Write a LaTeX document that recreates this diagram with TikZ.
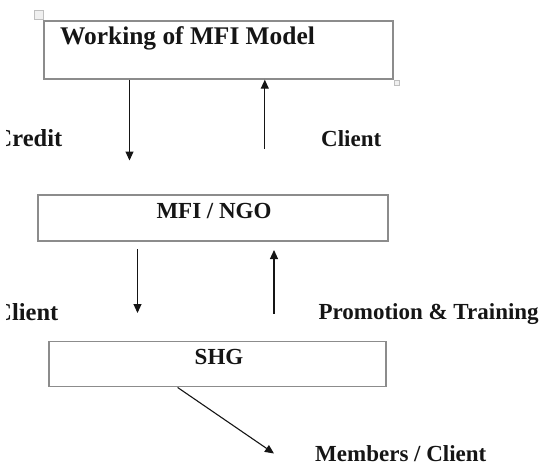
\documentclass[tikz,border=0pt]{standalone}
\usepackage{fontspec}
\setmainfont{Liberation Serif}
\usetikzlibrary{arrows.meta}
\definecolor{boxgray}{HTML}{8C8C8C}
\definecolor{ink}{HTML}{151515}
\tikzset{
  box/.style={draw=boxgray, line width=1.4pt, inner sep=0pt},
  lbl/.style={text=ink, inner sep=0pt, font=\bfseries\fontsize{23}{27}\selectfont},
  biglbl/.style={text=ink, inner sep=0pt, font=\bfseries\fontsize{24.5}{29}\selectfont},
  ttl/.style={text=ink, inner sep=0pt, font=\bfseries\fontsize{25.4}{30}\selectfont},
  arr/.style={draw=ink, line width=1.1pt, -{Triangle[length=9pt,width=8pt]}},
  handle/.style={draw=black!25, fill=black!6, line width=0.6pt}
}
\begin{document}
\begin{tikzpicture}[x=1pt,y=-1pt]
\useasboundingbox (0,0) rectangle (540,468);
\clip (0,0) rectangle (540,468);
% boxes
\node[box, minimum width=349pt, minimum height=58pt] (b1) at (218.5,50) {};
\node[box, minimum width=350pt, minimum height=46pt] (b2) at (213,218) {};
\node[box, minimum width=337pt, minimum height=45.5pt] (b3) at (217.5,364) {};
% selection handles
\draw[handle] (34,10) rectangle (43,19);
\draw[handle] (394,80) rectangle (399,85);
% texts
\node[ttl, anchor=base west] (t1) at (60,44.3) {Working of MFI Model};
\node[lbl, anchor=base] (t2) at (214,218.3) {MFI / NGO};
\node[lbl, anchor=base] (t3) at (219,364) {SHG};
\begin{scope}
\clip (6.5,0) rectangle (540,468);
\node[biglbl, anchor=base east] (credit) at (62.5,146.7) {Credit};
\node[biglbl, anchor=base east] (client2) at (58.5,320) {Client};
\end{scope}
\node[lbl, anchor=base west] (client1) at (321,146.7) {Client};
\node[lbl, anchor=base west] (promo) at (318.3,319.5) {Promotion \& Training};
\node[lbl, anchor=base west] (members) at (315,461.7) {Members / Client};
% arrow ends
\coordinate (a1) at (129.5,160.5);
\coordinate (a2) at (264.8,148.5);
\coordinate (a3s) at (137.5,249);
\coordinate (a3) at (137.5,313);
\coordinate (a4s) at (274,313.5);
\coordinate (a4) at (274,250);
\coordinate (a5) at (274,453.5);
% connectors
\draw[arr] (b1.south -| a1) -- (a1);
\draw[arr] (a2) -- (b1.south -| a2);
\draw[arr] (a3s) -- (a3);
\draw[arr] (a4s) -- (a4);
\draw[arr] (b3.south -| 177.6,0) -- (a5);
\end{tikzpicture}
\end{document}
